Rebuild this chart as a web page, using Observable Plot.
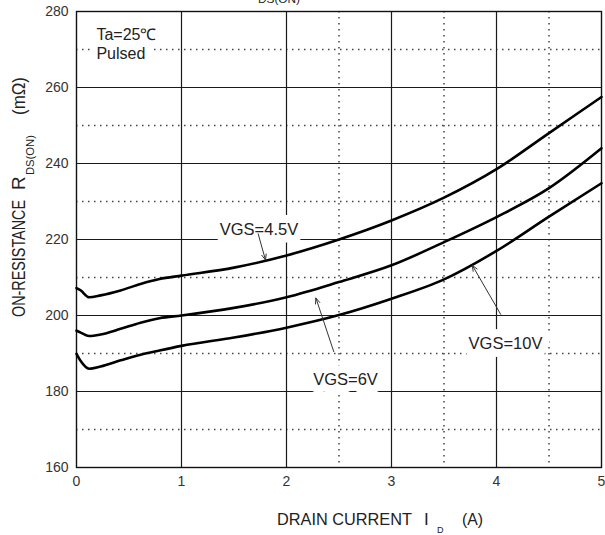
<!DOCTYPE html>
<html><head><meta charset="utf-8">
<script src="https://cdn.jsdelivr.net/npm/d3@7"></script>
<script src="https://cdn.jsdelivr.net/npm/@observablehq/plot@0.6"></script>
<style>
html,body{margin:0;padding:0;background:#fff;}
#chart{width:605px;height:535px;overflow:hidden;}
</style></head><body><div id="chart"></div>
<script>
// ---- data ----
const current = [0, 0.04, 0.12, 0.23, 0.42, 0.61, 0.79, 1, 1.5, 2, 2.5, 3, 3.5, 4, 4.5, 5];
const rVgs45 = [207.2, 206.6, 204.8, 205.3, 206.6, 208.3, 209.6, 210.5, 212.6, 215.8, 220, 225, 231, 238.5, 248, 257.5];
const rVgs6  = [196.0, 195.5, 194.6, 195.0, 196.5, 198.1, 199.3, 200.0, 202.0, 204.8, 208.8, 213.2, 219.3, 225.9, 233.5, 244.0];
const rVgs10 = [189.9, 188.0, 186.0, 186.6, 188.2, 189.7, 190.8, 192.0, 194.2, 196.8, 200.1, 204.4, 209.5, 217.0, 226.0, 234.8];
const seriesNames = ["VGS=4.5V", "VGS=6V", "VGS=10V"];

const xTicks = [0, 1, 2, 3, 4, 5];
const yTicks = [160, 180, 200, 220, 240, 260, 280];
const xMajorGrid = [1, 2, 3, 4];
const yMajorGrid = [180, 200, 220, 240, 260];
const xMinorGrid = [2.5, 3.5, 4.5];
const yMinorGrid = [170, 190, 210, 230, 250, 270];

const labelX = [1.738, 2.562, 4.086];
const labelY = [222.6, 183.2, 192.5];
const arrowFromX = [1.73, 2.45, 4.04];
const arrowFromY = [221.5, 190.5, 200.3];
const arrowToX = [1.80, 2.28, 3.77];
const arrowToY = [214.6, 204.6, 213.2];

const noteLines = ["Ta=25\u2103", "Pulsed"];
const noteX = [0.19, 0.19];
const noteY = [273.9, 268.9];

// ---- tables ----
const seriesValues = [rVgs45, rVgs6, rVgs10];
const lineRows = seriesNames.flatMap((name, i) =>
  current.map((c, j) => ({vgs: name, current: c, r: seriesValues[i][j]})));
const labelRows = seriesNames.map((name, i) => ({text: name, x: labelX[i], y: labelY[i]}));
const arrowRows = seriesNames.map((name, i) => ({x1: arrowFromX[i], y1: arrowFromY[i], x2: arrowToX[i], y2: arrowToY[i]}));
const noteRows = noteLines.map((t, i) => ({text: t, x: noteX[i], y: noteY[i]}));

const FONT = "'Liberation Sans', Arial, Helvetica, sans-serif";

const chart = Plot.plot({
  width: 605,
  height: 535,
  marginLeft: 76,
  marginRight: 4,
  marginTop: 11,
  marginBottom: 68,
  style: {fontFamily: FONT, fontSize: "14px", color: "#333", background: "white", overflow: "hidden"},
  x: {domain: [0, 5], ticks: xTicks, tickFormat: d => String(d), tickSize: 0, tickPadding: 9, label: null},
  y: {domain: [160, 280], ticks: yTicks, tickFormat: d => String(d), tickSize: 0, tickPadding: 8, label: null},
  marks: [
    Plot.ruleY(yMinorGrid, {stroke: "#444", strokeWidth: 1.5, strokeDasharray: "1.5,4.5"}),
    Plot.ruleX(xMinorGrid, {stroke: "#444", strokeWidth: 1.5, strokeDasharray: "1.5,4.5"}),
    Plot.ruleY(yMajorGrid, {stroke: "#1a1a1a", strokeWidth: 1.2}),
    Plot.ruleX(xMajorGrid, {stroke: "#1a1a1a", strokeWidth: 1.2}),
    Plot.frame({stroke: "#111", strokeWidth: 1.4}),
    Plot.text(noteRows, {x: "x", y: "y", text: "text", textAnchor: "start", fontSize: 16,
      fill: "#222", stroke: "white", strokeWidth: 14, strokeLinejoin: "round", paintOrder: "stroke"}),
    Plot.text(labelRows, {x: "x", y: "y", text: "text", fontSize: 16.5,
      fill: "#222", stroke: "white", strokeWidth: 16, strokeLinejoin: "round", paintOrder: "stroke"}),
    Plot.line(lineRows, {x: "current", y: "r", z: "vgs", stroke: "#000", strokeWidth: 2.6, curve: "monotone-x"}),
    Plot.arrow(arrowRows, {x1: "x1", y1: "y1", x2: "x2", y2: "y2", stroke: "#333", strokeWidth: 1, headLength: 9, headAngle: 45})
  ]
});

document.getElementById("chart").appendChild(chart);

const svg = d3.select(chart);

// clipped chart title at the very top (only the subscript shows in the reference)
svg.append("text").attr("text-anchor", "start").attr("font-family", FONT).attr("fill", "#222")
  .attr("x", 258).attr("y", 3).attr("font-size", 11)
  .attr("textLength", 42).attr("lengthAdjust", "spacingAndGlyphs").text("DS(ON)");

// x title
const xt = svg.append("g").attr("font-family", FONT).attr("fill", "#222").attr("text-anchor", "start");
xt.append("text").attr("x", 277).attr("y", 525).attr("font-size", 17).attr("textLength", 135).attr("lengthAdjust", "spacingAndGlyphs").text("DRAIN CURRENT");
xt.append("text").attr("x", 424).attr("y", 525).attr("font-size", 17).text("I");
xt.append("text").attr("x", 437).attr("y", 533).attr("font-size", 9).text("D");
xt.append("text").attr("x", 462).attr("y", 525).attr("font-size", 17).attr("textLength", 21).attr("lengthAdjust", "spacingAndGlyphs").text("(A)");

// y title (rotated)
const yt = svg.append("g").attr("font-family", FONT).attr("fill", "#222").attr("text-anchor", "start")
  .attr("transform", "translate(25,317) rotate(-90)");
yt.append("text").attr("x", 0).attr("y", 0).attr("font-size", 19).attr("textLength", 117).attr("lengthAdjust", "spacingAndGlyphs").text("ON-RESISTANCE");
yt.append("text").attr("x", 127).attr("y", 0).attr("font-size", 19).text("R");
yt.append("text").attr("x", 142).attr("y", 9).attr("font-size", 10).attr("textLength", 40).attr("lengthAdjust", "spacingAndGlyphs").text("DS(ON)");
yt.append("text").attr("x", 202).attr("y", 0).attr("font-size", 19).attr("textLength", 38).attr("lengthAdjust", "spacingAndGlyphs").text("(m\u03A9)");
</script>
</body></html>
